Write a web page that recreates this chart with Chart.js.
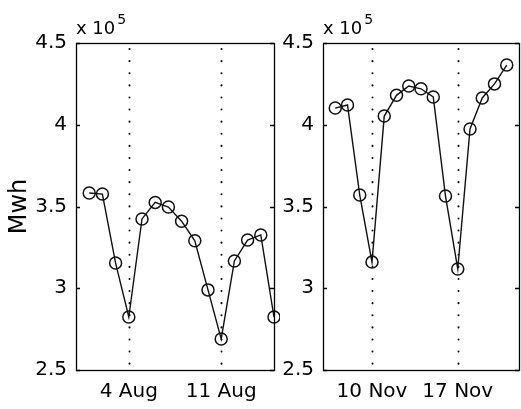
<!DOCTYPE html>
<html>
<head>
<meta charset="utf-8">
<script src="https://cdn.jsdelivr.net/npm/chart.js@4/dist/chart.umd.min.js"></script>
<style>
  html, body { margin: 0; padding: 0; background: #fff; }
  #wrap { position: relative; width: 521px; height: 409px; }
  .panel { position: absolute; top: 0; height: 409px; }
  #p1 { left: 0; width: 280px; }
  #p2 { left: 280px; width: 241px; }
</style>
</head>
<body>
<div id="wrap">
  <div class="panel" id="p1"><canvas id="aug"></canvas></div>
  <div class="panel" id="p2"><canvas id="nov"></canvas></div>
</div>
<script>
// values in units of 10^5 Mwh
const augDays = [1, 2, 3, 4, 5, 6, 7, 8, 9, 10, 11, 12, 13, 14, 15]
const augValues = [3.583, 3.576, 3.154, 2.824, 3.424, 3.525, 3.497, 3.41, 3.29, 2.99, 2.69, 3.167, 3.295, 3.326, 2.824]
const augTickDays = [4, 11]
const augTickLabels = ['4 Aug', '11 Aug']

const novDays = [7, 8, 9, 10, 11, 12, 13, 14, 15, 16, 17, 18, 19, 20, 21]
const novValues = [4.102, 4.121, 3.57, 3.16, 4.053, 4.18, 4.237, 4.22, 4.17, 3.564, 3.118, 3.974, 4.164, 4.25, 4.365]
const novTickDays = [10, 17]
const novTickLabels = ['10 Nov', '17 Nov']

const yTicks = [2.5, 3, 3.5, 4, 4.5]

const FONT = 'DejaVu Sans'

// MATLAB style box, inward ticks, dotted day lines, exponent label
const boxPlugin = {
    id: 'box',
    beforeDatasetsDraw(chart) {
        const ctx = chart.ctx
        const a = chart.chartArea
        const xs = chart.scales.x
        ctx.save()
        ctx.strokeStyle = '#000'
        ctx.lineWidth = 2
        ctx.lineCap = 'round'
        ctx.setLineDash([0.1, 12])
        xs.ticks.forEach(t => {
            const x = Math.round(xs.getPixelForValue(t.value)) + 0.5
            ctx.beginPath()
            ctx.moveTo(x, a.top + 6)
            ctx.lineTo(x, a.bottom)
            ctx.stroke()
        })
        ctx.restore()
    },
    afterDraw(chart) {
        const ctx = chart.ctx
        const a = chart.chartArea
        const ys = chart.scales.y
        ctx.save()
        ctx.strokeStyle = '#000'
        ctx.lineWidth = 1.3
        ctx.strokeRect(Math.round(a.left) + 0.5, Math.round(a.top) + 0.5,
            Math.round(a.right - a.left), Math.round(a.bottom - a.top))
        yTicks.forEach(v => {
            const y = Math.round(ys.getPixelForValue(v)) + 0.5
            ctx.beginPath()
            ctx.moveTo(a.left, y); ctx.lineTo(a.left + 4, y)
            ctx.moveTo(a.right, y); ctx.lineTo(a.right - 4, y)
            ctx.stroke()
        })
        ctx.fillStyle = '#000'
        ctx.textBaseline = 'alphabetic'
        ctx.font = '18px "' + FONT + '"'
        ctx.fillText('x 10', a.left, a.top - 9)
        const w = ctx.measureText('x 10').width
        ctx.font = '14px "' + FONT + '"'
        ctx.fillText('5', a.left + w + 2, a.top - 19)
        ctx.restore()
    }
}

function makeChart(id, days, values, xMin, xMax, tickDays, tickLabels, axisWidth, padRight, title) {
    return new Chart(document.getElementById(id), {
        type: 'line',
        data: {
            datasets: [{
                data: days.map((d, i) => ({ x: d, y: values[i] })),
                borderColor: '#111',
                borderWidth: 1.4,
                tension: 0,
                pointRadius: 6,
                pointBorderWidth: 1.5,
                pointBorderColor: '#111',
                pointBackgroundColor: 'rgba(0,0,0,0)',
                clip: false
            }]
        },
        options: {
            responsive: true,
            maintainAspectRatio: false,
            animation: false,
            events: [],
            layout: { autoPadding: false, padding: { top: 43, right: padRight, left: 0, bottom: 0 } },
            plugins: { legend: { display: false }, tooltip: { enabled: false } },
            scales: {
                x: {
                    type: 'linear',
                    min: xMin,
                    max: xMax,
                    afterBuildTicks: s => { s.ticks = tickDays.map(v => ({ value: v })) },
                    afterFit: s => { s.height = 39; s.paddingLeft = 0; s.paddingRight = 0 },
                    grid: { display: false, drawTicks: false },
                    border: { display: false },
                    ticks: {
                        padding: 10,
                        color: '#000',
                        font: { family: FONT, size: 20 },
                        maxRotation: 0,
                        callback: v => tickLabels[tickDays.indexOf(v)]
                    }
                },
                y: {
                    min: 2.5,
                    max: 4.5,
                    afterBuildTicks: s => { s.ticks = yTicks.map(v => ({ value: v })) },
                    afterFit: s => { s.width = axisWidth },
                    grid: { display: false, drawTicks: false },
                    border: { display: false },
                    ticks: {
                        padding: 9,
                        color: '#000',
                        font: { family: FONT, size: 20 },
                        callback: v => String(v)
                    },
                    title: {
                        display: !!title,
                        text: title,
                        color: '#000',
                        font: { family: FONT, size: 24 },
                        padding: { top: 5, bottom: 0 }
                    }
                }
            }
        },
        plugins: [boxPlugin]
    })
}

makeChart('aug', augDays, augValues, 0, 15, augTickDays, augTickLabels, 76, 6, 'Mwh')
makeChart('nov', novDays, novValues, 6, 22, novTickDays, novTickLabels, 43, 2, '')
</script>
</body>
</html>
